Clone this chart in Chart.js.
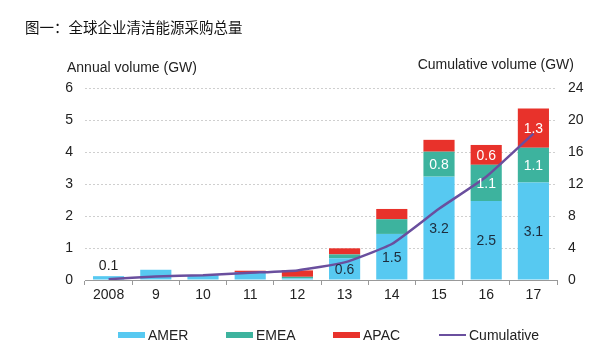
<!DOCTYPE html>
<html>
<head>
<meta charset="utf-8">
<script src="https://cdn.jsdelivr.net/npm/chart.js@4.4.0/dist/chart.umd.min.js"></script>
<style>
  html, body { margin: 0; padding: 0; background: #fff; }
  #wrap { width: 616px; height: 358px; }
</style>
</head>
<body>
<div id="wrap"><canvas id="chart" width="616" height="358"></canvas></div>
<script>
// ── DATA ────────────────────────────────────────────────────────────────────
const years      = ["2008", "9", "10", "11", "12", "13", "14", "15", "16", "17"];
const amer       = [0.12, 0.32, 0.15, 0.25, 0.05, 0.68, 1.44, 3.23, 2.47, 3.05];
const emea       = [0, 0, 0, 0, 0.05, 0.12, 0.46, 0.78, 1.13, 1.08];
const apac       = [0, 0, 0, 0.04, 0.2, 0.19, 0.32, 0.37, 0.62, 1.23];
const cumulative = [0.1, 0.45, 0.6, 0.9, 1.2, 2.2, 4.5, 8.9, 12.9, 18.3];

const amerLabels = ["0.1", null, null, null, null, "0.6", "1.5", "3.2", "2.5", "3.1"];
const emeaLabels = [null, null, null, null, null, null, null, "0.8", "1.1", "1.1"];
const apacLabels = [null, null, null, null, null, null, null, null, "0.6", "1.3"];

const leftMax  = 6;
const rightMax = 24;

const FONT = "'Liberation Sans', Arial, sans-serif";
const C_AMER = "#57c9f1";
const C_EMEA = "#3db39e";
const C_APAC = "#e8322b";
const C_CUM  = "#6a4f9e";

// ── DECORATIONS: title, axis titles, value labels, legend ───────────────────
const decor = {
  id: "decor",
  afterDatasetsDraw(chart) {
    const ctx = chart.ctx;
    const labelSets = [
      { idx: 0, labels: amerLabels, color: "#1d2c3c" },
      { idx: 1, labels: emeaLabels, color: "#ffffff" },
      { idx: 2, labels: apacLabels, color: "#ffffff" },
    ];
    ctx.save();
    ctx.font = `14px ${FONT}`;
    ctx.textAlign = "center";
    ctx.textBaseline = "middle";
    labelSets.forEach(set => {
      const meta = chart.getDatasetMeta(set.idx);
      set.labels.forEach((txt, i) => {
        if (!txt) return;
        const bar = meta.data[i];
        const h = Math.abs(bar.base - bar.y);
        if (h < 14) {
          ctx.fillStyle = "#222";
          ctx.fillText(txt, bar.x, bar.y - 10);
        } else {
          ctx.fillStyle = set.color;
          ctx.fillText(txt, bar.x, (bar.y + bar.base) / 2 + 1);
        }
      });
    });
    ctx.restore();
  },
  afterDraw(chart) {
    const ctx = chart.ctx;
    ctx.save();
    // title
    ctx.fillStyle = "#111";
    ctx.font = `14.5px 'Noto Sans CJK SC', sans-serif`;
    ctx.textAlign = "left";
    ctx.textBaseline = "middle";
    ctx.fillText("图一：全球企业清洁能源采购总量", 25, 27);

    // axis titles
    ctx.font = `14px ${FONT}`;
    ctx.fillStyle = "#222";
    ctx.fillText("Annual volume (GW)", 67, 68);
    ctx.textAlign = "right";
    ctx.fillText("Cumulative volume (GW)", 574, 65);

    // legend
    const starts = [118, 226, 333, 439];
    const ly = 335;
    ctx.textAlign = "left";
    chart.data.datasets.forEach((ds, i) => {
      const x = starts[i];
      if (ds.type === "line") {
        ctx.strokeStyle = ds.borderColor;
        ctx.lineWidth = 2;
        ctx.beginPath();
        ctx.moveTo(x, ly);
        ctx.lineTo(x + 27, ly);
        ctx.stroke();
      } else {
        ctx.fillStyle = ds.backgroundColor;
        ctx.fillRect(x, ly - 3, 27, 6);
      }
      ctx.fillStyle = "#222";
      ctx.fillText(ds.label, x + 30, ly + 1);
    });
    ctx.restore();
  }
};

// ── CHART ───────────────────────────────────────────────────────────────────
new Chart(document.getElementById("chart"), {
  data: {
    labels: years,
    datasets: [
      { type: "bar", label: "AMER", data: amer, backgroundColor: C_AMER, yAxisID: "y", order: 1,
        barPercentage: 0.66, categoryPercentage: 1 },
      { type: "bar", label: "EMEA", data: emea, backgroundColor: C_EMEA, yAxisID: "y", order: 1,
        barPercentage: 0.66, categoryPercentage: 1 },
      { type: "bar", label: "APAC", data: apac, backgroundColor: C_APAC, yAxisID: "y", order: 1,
        barPercentage: 0.66, categoryPercentage: 1 },
      { type: "line", label: "Cumulative", data: cumulative, borderColor: C_CUM, backgroundColor: C_CUM,
        borderWidth: 2.5, pointRadius: 0, tension: 0.15, yAxisID: "y2", order: 0 },
    ]
  },
  options: {
    responsive: false,
    animation: false,
    devicePixelRatio: 1,
    layout: { padding: { top: 88, left: 0, right: 0, bottom: 0 } },
    plugins: { legend: { display: false }, tooltip: { enabled: false } },
    scales: {
      x: {
        stacked: true,
        offset: true,
        grid: { display: true, drawOnChartArea: false, drawTicks: true, tickLength: 5, color: "#999", offset: true },
        border: { display: true, color: "#999", width: 1 },
        ticks: { color: "#222", font: { family: FONT, size: 14 }, padding: 2, maxRotation: 0, autoSkip: false },
        afterFit(scale) { scale.height = 78; }
      },
      y: {
        position: "left",
        stacked: true,
        min: 0, max: leftMax,
        ticks: { stepSize: 1, color: "#222", font: { family: FONT, size: 14 }, padding: 12 },
        grid: { color: "#cfcfcf", drawTicks: false },
        border: { display: false, dash: [2, 2] },
        afterFit(scale) { scale.width = 85; }
      },
      y2: {
        position: "right",
        min: 0, max: rightMax,
        ticks: { stepSize: 4, color: "#222", font: { family: FONT, size: 14 }, padding: 11 },
        grid: { display: false, drawTicks: false },
        border: { display: false },
        afterFit(scale) { scale.width = 59; }
      }
    }
  },
  plugins: [decor]
});
</script>
</body>
</html>
